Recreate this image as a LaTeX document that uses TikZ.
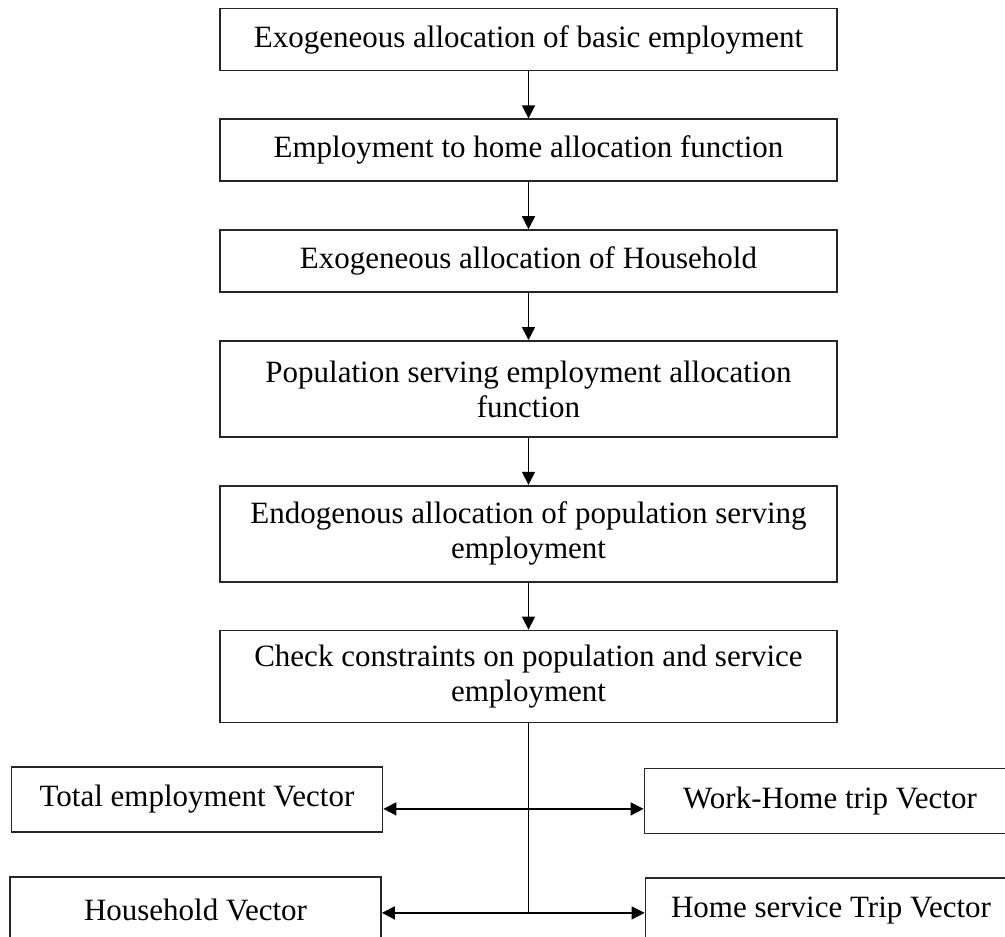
\documentclass[tikz,border=0pt]{standalone}
\usepackage{fontspec}
\setmainfont{Liberation Serif}
\usepackage{tikz}
\usetikzlibrary{arrows.meta, positioning}
\tikzset{
  tahap/.style={rectangle, draw=black!85, line width=1.8pt, fill=white,
    minimum width=617pt, minimum height=62pt, inner sep=0pt, align=center,
    font=\fontsize{31}{35}\selectfont},
  tahapbesar/.style={tahap, minimum height=96pt},
  keluaran/.style={tahap, minimum width=371pt, minimum height=65pt},
  panah/.style={-{Triangle[length=13pt, width=13pt]}, line width=1.5pt, black}
}

\begin{document}
\begin{tikzpicture}[x=1pt, y=1pt, node distance=47pt]
  \useasboundingbox (0,0) rectangle (1005,-937);
  \clip (0,0) rectangle (1005,-937);
  \node[tahap] (a1) at (528.5,-39.5) {Exogeneous allocation of basic employment};
  \node[tahap, below=of a1] (a2) {Employment to home allocation function};
  \node[tahap, below=of a2] (a3) {Exogeneous allocation of Household};
  \node[tahapbesar, below=of a3] (a4) {Population serving employment allocation\\function};
  \node[tahapbesar, below=of a4] (a5) {Endogenous allocation of population serving\\employment};
  \node[tahapbesar, minimum height=92pt, below=of a5] (a6) {Check constraints on population and service\\employment};
  \node[keluaran] (k1) at (197,-799.5) {Total employment Vector};
  \node[keluaran] (k2) at (830,-801) {Work-Home trip Vector};
  \node[keluaran] (k3) at (195.5,-909.5) {Household Vector};
  \node[keluaran] (k4) at (831,-910.5) {Home service Trip Vector};
  \path (a6.south) ++(0,-85.5) coordinate (c1);
  \path (a6.south) ++(0,-189.5) coordinate (c2);
  \draw[panah] (a1) -- (a2);
  \draw[panah] (a2) -- (a3);
  \draw[panah] (a3) -- (a4);
  \draw[panah] (a4) -- (a5);
  \draw[panah] (a5) -- (a6);
  \draw[line width=1.5pt] (a6) -- (c2);
  \draw[panah] (c1) -- (k1.east |- c1);
  \draw[panah] (c1) -- (k2.west |- c1);
  \draw[panah] (c2) -- (k3.east |- c2);
  \draw[panah] (c2) -- (k4.west |- c2);
\end{tikzpicture}
\end{document}
